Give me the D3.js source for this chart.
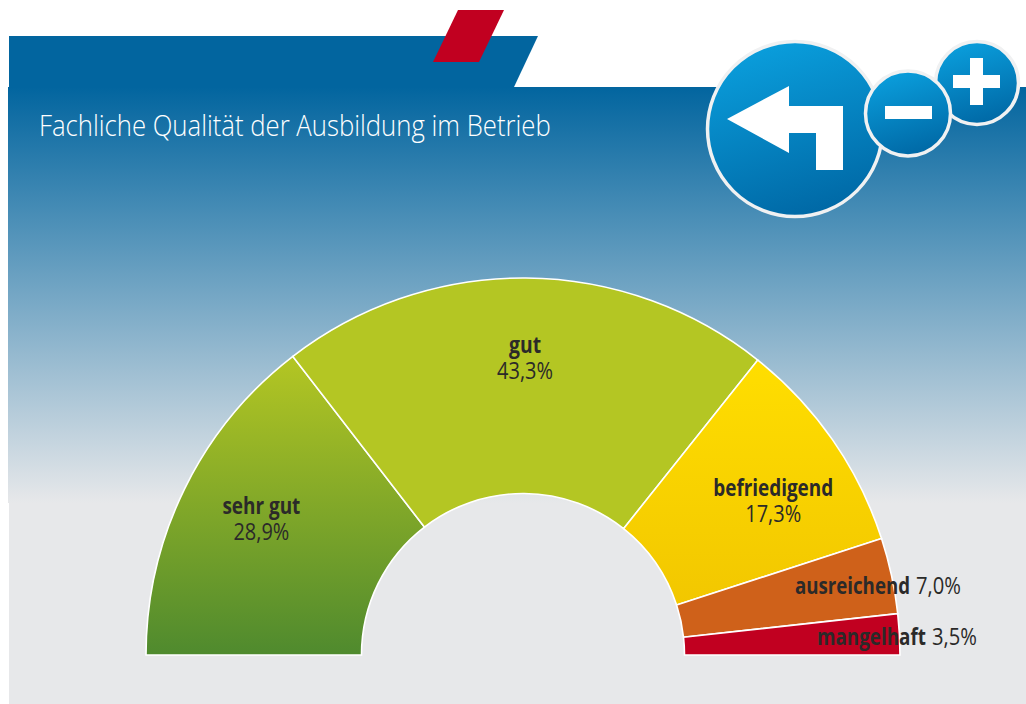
<!DOCTYPE html>
<html><head><meta charset="utf-8">
<script src="https://cdnjs.cloudflare.com/ajax/libs/d3/7.8.5/d3.min.js"></script>
<style>html,body{margin:0;padding:0;background:#fff}svg{display:block}
text{font-family:"Open Sans","Noto Sans",sans-serif}</style>
</head><body><div id="chart"></div>
<script>
const categories = ["sehr gut","gut","befriedigend","ausreichend","mangelhaft"];
// values printed on the chart
const shares = [28.9,43.3,17.3,7.0,3.5];
// slice sizes as actually drawn in the picture (the source graphic is not exactly proportional to its printed values)
const drawnShares = [29.1,42.3,18.6,6.5,3.5];
const title = "Fachliche Qualität der Ausbildung im Betrieb";
const topColors = ["#b4c623","#b4c623","#ffde00","#cf611a","#c10020"];
const bottomColors = ["#4f8a2e","#b4c623","#f2c700","#cf611a","#c10020"];
// label layout, kept apart from the values
const labelShift = [[-20,-14],[0,-25],[29,2],[0,0],[0,0]];
const inlineLabel = [false,false,false,true,true];
const inlineLeft = [0,0,0,795,817];
const inlineGap = 6;
const inlineBase = [0,0,0,594,645];
const nameWidth = [78,32,120,115,109];
const valueWidth = [56,56,56,45,45];

const W=1026,H=704,cx=523,cy=655,R=377,r=161.5;
const svg=d3.select("#chart").append("svg").attr("width",W).attr("height",H);
const defs=svg.append("defs");
function lin(id,x1,y1,x2,y2,stops){const g=defs.append("linearGradient").attr("id",id)
  .attr("x1",x1).attr("y1",y1).attr("x2",x2).attr("y2",y2);
  stops.forEach(s=>g.append("stop").attr("offset",s[0]).attr("stop-color",s[1]));}
lin("panel",0,0,0,1,[[0,"#02659f"],[1,"#e7e8ea"]]);
lin("ball",0.3,0,0.6,1,[[0,"#0a9fdd"],[1,"#0068a5"]]);
categories.forEach((c,i)=>lin("seg"+i,0,0,0,1,[[0,topColors[i]],[1,bottomColors[i]]]));

svg.append("rect").attr("x",9).attr("y",503).attr("width",W-9).attr("height",H-503).attr("fill","#e7e8ea");
svg.append("rect").attr("x",8).attr("y",87).attr("width",W-8).attr("height",416).attr("fill","url(#panel)");
svg.append("polygon").attr("points","9,36 538,36 514,87 9,87").attr("fill","#02659f");
svg.append("polygon").attr("points","458,10 504,10 479,62 433,62").attr("fill","#c10020");

// text squeezed horizontally to the condensed width of the original typeface
function put(x,y,size,weight,color,len,str){
  const t=svg.append("text").attr("font-size",size).attr("font-weight",weight).attr("fill",color).text(str);
  const k=len/t.node().getComputedTextLength();
  t.attr("transform",`translate(${x},${y}) scale(${k},1)`);
}
put(39,136,29,300,"#fff",512,title);

const pie=d3.pie().sort(null).startAngle(-Math.PI/2).endAngle(Math.PI/2);
const arc=d3.arc().innerRadius(r).outerRadius(R);
const g=svg.append("g").attr("transform",`translate(${cx},${cy})`);
const slices=pie(drawnShares);
g.selectAll("path").data(slices).join("path").attr("d",arc)
  .attr("fill",(d,i)=>`url(#seg${i})`).attr("stroke","#fff").attr("stroke-width",1.6);

const fs=23.5, ink="#2b2a29";
const fmt=v=>d3.format(".1f")(v).replace(".",",")+"%";
slices.forEach((d,i)=>{
  const [x,y]=arc.centroid(d);
  if(inlineLabel[i]){
    put(inlineLeft[i],inlineBase[i],fs,700,ink,nameWidth[i],categories[i]);
    put(inlineLeft[i]+nameWidth[i]+inlineGap,inlineBase[i],fs,400,ink,valueWidth[i],fmt(shares[i]));
  } else {
    const px=cx+x+labelShift[i][0], py=cy+y+labelShift[i][1];
    put(px-nameWidth[i]/2,py-8,fs,700,ink,nameWidth[i],categories[i]);
    put(px-valueWidth[i]/2,py+18,fs,400,ink,valueWidth[i],fmt(shares[i]));
  }
});

function ball(x,y,rad){svg.append("circle").attr("cx",x).attr("cy",y).attr("r",rad)
  .attr("fill","url(#ball)").attr("stroke","#f0f1f2").attr("stroke-width",3.5);}
ball(795,129,87.5);
svg.append("polygon").attr("points","727,119 789,86 789,106 843,106 843,170 816,170 816,133 789,133 789,153").attr("fill","#fff");
ball(977,83,41.5);
svg.append("rect").attr("x",953).attr("y",75).attr("width",47).attr("height",13).attr("fill","#fff");
svg.append("rect").attr("x",970).attr("y",58).attr("width",13).attr("height",47).attr("fill","#fff");
ball(908,113.5,42.5);
svg.append("rect").attr("x",885).attr("y",106).attr("width",47).attr("height",13).attr("fill","#fff");
</script></body></html>
